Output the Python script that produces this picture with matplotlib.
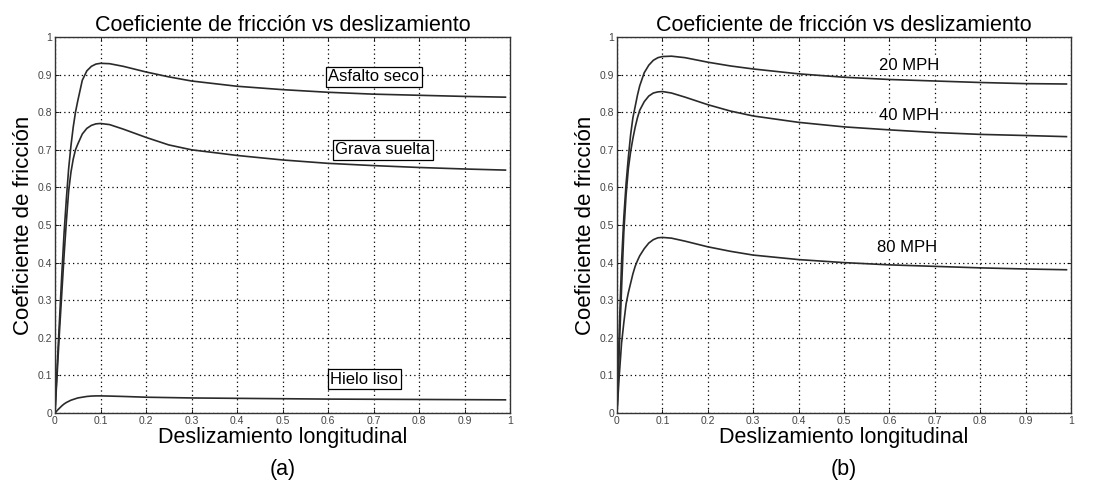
import matplotlib.pyplot as plt

plt.rcParams['font.family'] = ['Liberation Sans', 'DejaVu Sans']

# deslizamiento (slip) points
slip = [0, 0.005, 0.01, 0.015, 0.02, 0.025, 0.03, 0.035, 0.04, 0.045, 0.05,
        0.06, 0.07, 0.08, 0.09, 0.1, 0.12, 0.15, 0.2, 0.25, 0.3, 0.4, 0.5,
        0.6, 0.7, 0.8, 0.9, 0.99]

# (a) superficies
asfalto = [0, 0.13, 0.25, 0.37, 0.48, 0.57, 0.65, 0.71, 0.76, 0.80, 0.83,
           0.885, 0.91, 0.922, 0.928, 0.93, 0.929, 0.922, 0.907, 0.894, 0.883,
           0.869, 0.86, 0.853, 0.848, 0.845, 0.842, 0.84]
grava = [0, 0.11, 0.22, 0.32, 0.42, 0.51, 0.59, 0.64, 0.675, 0.70, 0.715,
         0.742, 0.757, 0.765, 0.769, 0.77, 0.767, 0.755, 0.733, 0.713, 0.70,
         0.685, 0.673, 0.664, 0.658, 0.653, 0.649, 0.646]
hielo = [0, 0.007, 0.013, 0.019, 0.024, 0.028, 0.031, 0.034, 0.036, 0.038, 0.040,
         0.042, 0.044, 0.045, 0.0455, 0.0455, 0.045, 0.044, 0.042, 0.041, 0.040,
         0.039, 0.038, 0.037, 0.0365, 0.036, 0.0355, 0.035]

# (b) velocidades
mph20 = [0, 0.22, 0.40, 0.52, 0.61, 0.68, 0.74, 0.785, 0.815, 0.845, 0.87,
         0.905, 0.925, 0.938, 0.945, 0.948, 0.949, 0.945, 0.933, 0.923, 0.915,
         0.902, 0.893, 0.887, 0.883, 0.879, 0.876, 0.875]
mph40 = [0, 0.17, 0.33, 0.48, 0.58, 0.65, 0.695, 0.73, 0.76, 0.785, 0.805,
         0.828, 0.843, 0.851, 0.854, 0.855, 0.851, 0.84, 0.82, 0.803, 0.79,
         0.773, 0.761, 0.753, 0.746, 0.741, 0.738, 0.735]
mph80 = [0, 0.10, 0.185, 0.24, 0.29, 0.32, 0.345, 0.37, 0.39, 0.405, 0.418,
         0.437, 0.452, 0.461, 0.466, 0.467, 0.465, 0.457, 0.442, 0.43, 0.42,
         0.408, 0.40, 0.394, 0.39, 0.386, 0.383, 0.381]

ticks = [0, 0.1, 0.2, 0.3, 0.4, 0.5, 0.6, 0.7, 0.8, 0.9, 1]
tick_labels = ['0', '0.1', '0.2', '0.3', '0.4', '0.5', '0.6', '0.7', '0.8', '0.9', '1']

fig = plt.figure(figsize=(11.01, 4.84), dpi=100)
ax1 = fig.add_axes([55 / 1101, 71 / 484, 455 / 1101, 376 / 484])
ax2 = fig.add_axes([617 / 1101, 71 / 484, 454 / 1101, 376 / 484])


def style(ax, sub):
    ax.set_xlim(0, 1)
    ax.set_ylim(0, 1)
    ax.set_xticks(ticks)
    ax.set_yticks(ticks)
    ax.set_xticklabels(tick_labels)
    ax.set_yticklabels(tick_labels)
    ax.tick_params(direction='in', top=True, right=True, length=3,
                   labelsize=7.5, labelcolor='#444444', pad=2, width=0.6)
    ax.grid(True, color='black', linestyle=(0, (1, 2.5)), linewidth=0.9)
    for s in ax.spines.values():
        s.set_color('#333333')
        s.set_linewidth(1.0)
    ax.set_title('Coeficiente de fricción vs deslizamiento', fontsize=15.5, pad=4)
    ax.set_xlabel('Deslizamiento longitudinal', fontsize=15.5, labelpad=1)
    ax.set_ylabel('Coeficiente de fricción', fontsize=16, labelpad=3)
    bb = ax.get_position()
    fig.text((bb.x0 + bb.x1) / 2, 14 / 484, '(' + sub + ')', ha='center',
             va='center', fontsize=15.5)


lc = '#2a2a2a'
ax1.plot(slip, asfalto, color=lc, lw=1.2)
ax1.plot(slip, grava, color=lc, lw=1.2)
ax1.plot(slip, hielo, color=lc, lw=1.2)
boxed = dict(boxstyle='square,pad=0.15', fc='white', ec='black', lw=0.9)
ax1.text(0.70, 0.894, 'Asfalto seco', ha='center', va='center', fontsize=12, bbox=boxed)
ax1.text(0.72, 0.70, 'Grava suelta', ha='center', va='center', fontsize=12, bbox=boxed)
ax1.text(0.68, 0.09, 'Hielo liso', ha='center', va='center', fontsize=12, bbox=boxed)
style(ax1, 'a')

ax2.plot(slip, mph20, color=lc, lw=1.2)
ax2.plot(slip, mph40, color=lc, lw=1.2)
ax2.plot(slip, mph80, color=lc, lw=1.2)
plain = dict(boxstyle='square,pad=0.15', fc='white', ec='none')
ax2.text(0.643, 0.925, '20 MPH', ha='center', va='center', fontsize=12, bbox=plain)
ax2.text(0.643, 0.79, '40 MPH', ha='center', va='center', fontsize=12, bbox=plain)
ax2.text(0.64, 0.44, '80 MPH', ha='center', va='center', fontsize=12, bbox=plain)
style(ax2, 'b')

fig.savefig('out.png', dpi=100)
